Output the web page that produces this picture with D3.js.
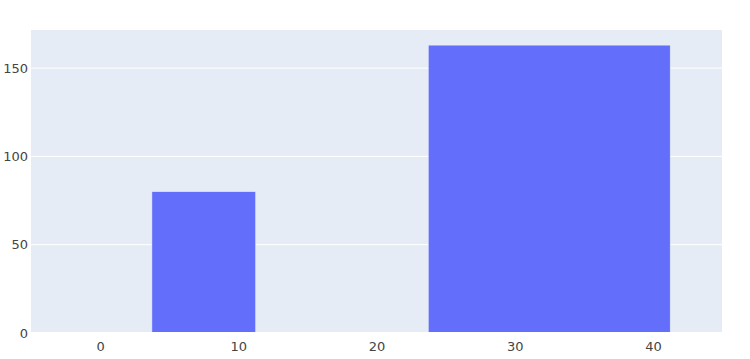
<!DOCTYPE html>
<html>

<head>
  <script src="https://d3js.org/d3.v7.min.js"></script>
  <style>
    body { margin: 0; background: #fff; }
  </style>
</head>

<body>
  <script>
    // bar data: centres, widths and heights
    const centers = [7.5, 32.5];
    const widths = [7.5, 17.5];
    const values = [80, 163];
    const xTicks = [0, 10, 20, 30, 40];
    const yTicks = [0, 50, 100, 150];

    const width = 750;
    const height = 359;
    const margin = { top: 30, right: 28, bottom: 26, left: 31 };

    const svg = d3.select("body")
      .append("svg")
      .attr("width", width)
      .attr("height", height);

    const x = d3.scaleLinear()
      .domain([-5, 45])
      .range([margin.left, width - margin.right]);

    const y = d3.scaleLinear()
      .domain([0, 163 / 0.95])
      .range([height - margin.bottom, margin.top]);

    // plot background
    svg.append("rect")
      .attr("x", margin.left)
      .attr("y", margin.top)
      .attr("width", width - margin.left - margin.right)
      .attr("height", height - margin.top - margin.bottom)
      .attr("fill", "#e5ecf6");

    // horizontal grid
    svg.append("g")
      .selectAll("line")
      .data(yTicks.filter(d => d > 0))
      .enter()
      .append("line")
      .attr("x1", margin.left)
      .attr("x2", width - margin.right)
      .attr("y1", d => y(d))
      .attr("y2", d => y(d))
      .attr("stroke", "#fff")
      .attr("stroke-width", 1);

    // bars
    svg.append("g")
      .selectAll("rect")
      .data(values)
      .enter()
      .append("rect")
      .attr("x", (d, i) => x(centers[i] - widths[i] / 2))
      .attr("width", (d, i) => x(centers[i] + widths[i] / 2) - x(centers[i] - widths[i] / 2))
      .attr("y", d => y(d))
      .attr("height", d => y(0) - y(d))
      .attr("fill", "#636efa")
      .attr("stroke", "#e5ecf6")
      .attr("stroke-width", 0.5);

    // zero line
    svg.append("line")
      .attr("x1", margin.left)
      .attr("x2", width - margin.right)
      .attr("y1", y(0))
      .attr("y2", y(0))
      .attr("stroke", "#fff")
      .attr("stroke-width", 2);

    // axes
    svg.append("g")
      .attr("transform", `translate(0,${height - margin.bottom})`)
      .call(d3.axisBottom(x).tickValues(xTicks).tickSize(0).tickPadding(9));

    svg.append("g")
      .attr("transform", `translate(${margin.left - 1},0)`)
      .call(d3.axisLeft(y).tickValues(yTicks).tickSize(0).tickPadding(2));

    svg.selectAll(".domain").remove();
    svg.selectAll(".tick text")
      .style("font-family", "'DejaVu Sans', sans-serif")
      .style("font-size", "13px")
      .attr("fill", "#444");
  </script>
</body>

</html>
